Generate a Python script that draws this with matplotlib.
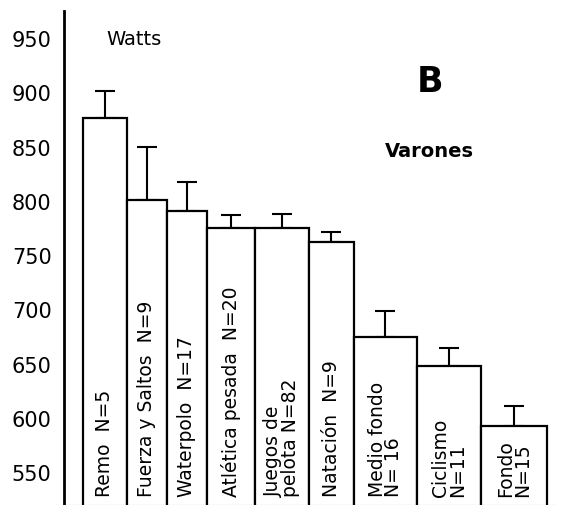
import matplotlib
matplotlib.use("Agg")
import matplotlib.pyplot as plt

# Potencia media (W) por deporte, varones
deportes = ["Remo  N=5", "Fuerza y Saltos  N=9", "Waterpolo  N=17",
            "Atlética pesada  N=20", "Juegos de\npelota N=82", "Natación  N=9",
            "Medio fondo\nN= 16", "Ciclismo\nN=11", "Fondo\nN=15"]
watts = [876, 801, 791, 775, 775, 762, 674, 648, 592]
error_sup = [25, 49, 26, 12, 13, 9, 24, 16, 19]
y_ticks = [550, 600, 650, 700, 750, 800, 850, 900, 950]

# bordes de las barras (anchos distintos), en px de la figura
bordes = [83, 127, 167, 207, 255, 309, 354, 417, 481, 547]

fig = plt.figure(figsize=(5.65, 5.06), dpi=100)
ax = fig.add_axes([64 / 565, 0, 491 / 565, 494 / 506])

izq = bordes[:-1]
anchos = [b - a for a, b in zip(bordes[:-1], bordes[1:])]
centros = [a + w / 2 for a, w in zip(izq, anchos)]

ax.bar(izq, watts, width=anchos, align="edge", bottom=0,
       color="white", edgecolor="black", linewidth=1.6, zorder=2)
ax.errorbar(centros, watts, yerr=[[0] * len(watts), error_sup], fmt="none",
            ecolor="black", elinewidth=1.5, capsize=7, capthick=1.5, zorder=1)

for x, nombre in zip(centros, deportes):
    ax.text(x, 528, nombre, rotation=90, rotation_mode="anchor",
            ha="left", va="center", multialignment="left",
            fontsize=13.5, linespacing=0.85, zorder=3)

ax.set_xlim(64, 555)
ax.set_ylim(519.6, 974.9)
ax.set_yticks(y_ticks)
ax.set_xticks([])
ax.tick_params(axis="y", length=0, pad=9, labelsize=15)

for s in ["top", "right"]:
    ax.spines[s].set_visible(False)
ax.spines["left"].set_linewidth(2)
ax.spines["bottom"].set_linewidth(0.8)
ax.spines["bottom"].set_color("#999999")

ax.text(106, 950, "Watts", fontsize=14, va="center")
ax.text(430, 910, "B", fontsize=25, fontweight="bold", ha="center", va="center")
ax.text(385, 846, "Varones", fontsize=14, fontweight="bold", va="center")

fig.savefig("out.png", dpi=100)
